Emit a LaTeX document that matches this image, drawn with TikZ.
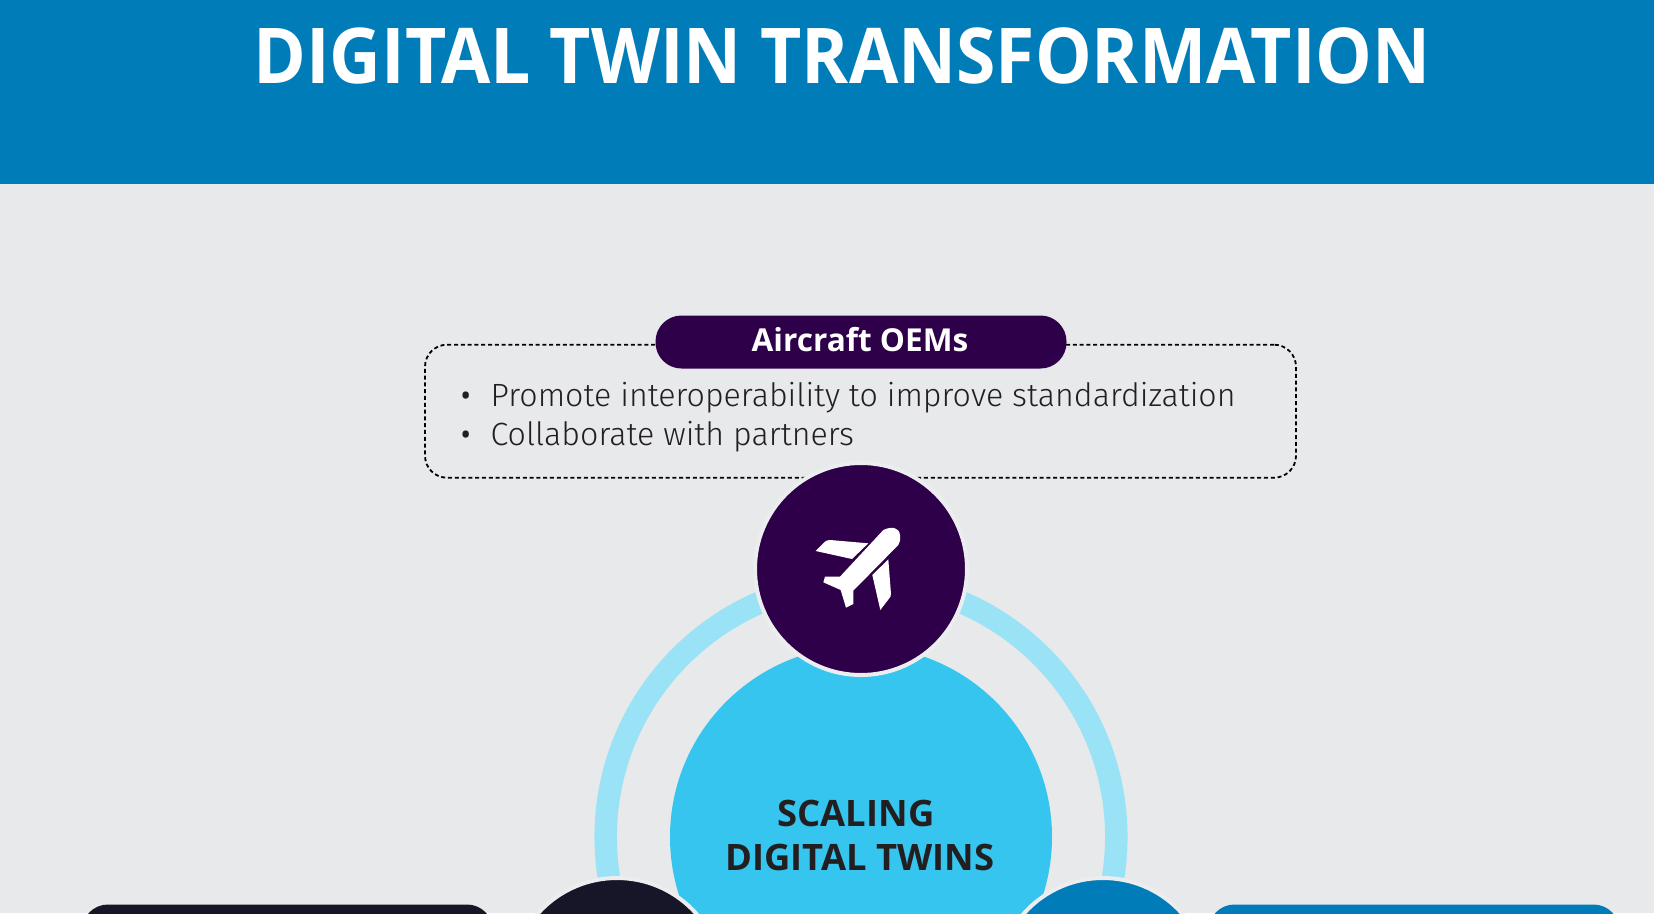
\documentclass[tikz,border=0pt]{standalone}
\usepackage{fontspec}
\setmainfont{Open Sans}
\newfontfamily\lightf{Fira Sans Light}
\definecolor{hdr}{HTML}{007DB8}
\definecolor{bgc}{HTML}{E8E9EB}
\definecolor{halo}{HTML}{ECEDEF}
\definecolor{plum}{HTML}{2E0049}
\definecolor{inkc}{HTML}{171628}
\definecolor{ringc}{HTML}{9AE3F7}
\definecolor{corec}{HTML}{36C5EE}
\definecolor{txt}{HTML}{231F20}
\tikzset{
  x=1pt,y=-1pt,
  disc/.style={circle,inner sep=0pt,minimum size=212pt,draw=halo,line width=4pt},
  pillbox/.style={rounded corners=26pt,inner sep=0pt},
  bodytxt/.style={anchor=base west,inner sep=0pt,text=txt,font=\lightf\fontsize{32.15}{32}\selectfont},
  bullettxt/.style={anchor=base,inner sep=0pt,text=txt,font=\fontsize{30}{30}\selectfont},
  headtxt/.style={anchor=base,inner sep=0pt,text=txt,font=\bfseries\fontsize{36.4}{36}\selectfont},
}
\begin{document}
\begin{tikzpicture}
\useasboundingbox (0,0) rectangle (1654,913);
\clip (0,0) rectangle (1654,913);
\fill[bgc] (0,0) rectangle (1654,913);
\fill[hdr] (0,0) rectangle (1654,184);
\node[anchor=base,inner sep=0pt,text=white,font=\bfseries\fontsize{77}{77}\selectfont] (title) at (842,83) {\scalebox{0.928}[1]{DIGITAL TWIN TRANSFORMATION}};
% dashed frame
\node[draw=black,dashed,dash pattern=on 4pt off 2.8pt,line width=1.8pt,rounded corners=22pt,minimum width=871pt,minimum height=133pt,inner sep=0pt] (frame) at (860.5,411.2) {};
\node[pillbox,fill=plum,minimum width=411pt,minimum height=53pt] (pill) at (861,342) {};
\node[anchor=base,inner sep=0pt,text=white,font=\bfseries\fontsize{31.6}{31}\selectfont] (pilltxt) at (860,351) {Aircraft OEMs};
\node[bullettxt] (b1) at (465.7,406) {•};
\node[bodytxt] (t1) at (490.5,406) {Promote interoperability to improve standardization};
\node[bullettxt] (b2) at (465.7,445) {•};
\node[bodytxt] (t2) at (490.5,445) {Collaborate with partners};
% ring and core
\node[circle,draw=ringc,line width=22.5pt,minimum size=510.6pt,inner sep=0pt] (ring) at (861,837) {};
\node[circle,fill=corec,minimum size=382pt,inner sep=0pt] (core) at (861,837) {};
\node[headtxt] (s1) at (856,826) {SCALING};
\node[headtxt] (s2) at (860,870) {DIGITAL TWINS};
% discs
\node[disc,fill=plum] (top) at (861,569) {};
\node[disc,fill=inkc] (left) at (617,984) {};
\node[disc,fill=hdr] (right) at (1103,984) {};
% plane
\begin{scope}[shift={(700,440)},x=0.3333pt,y=-0.3333pt]
\fill[white] (600,285) .. controls (598,262) and (575,258) .. (550,270) -- (420,410) -- (375,410) -- (370,427) -- (422,450) -- (438,503) -- (460,492) -- (460,452) -- (595,315) .. controls (600,308) and (602,298) .. (600,285) -- cycle;
\fill[white] (347,333) -- (372,308) .. controls (376,303) and (381,300) .. (390,300) -- (505,310) -- (456,357) -- cycle;
\fill[white] (565,358) -- (573,462) .. controls (573,468) and (571,472) .. (567,476) -- (541,510) -- (517,405) -- cycle;
\end{scope}
% bottom boxes
\node[pillbox,fill=inkc,minimum width=411pt,minimum height=60pt] (lbox) at (287.5,934.5) {};
\node[pillbox,fill=hdr,minimum width=411pt,minimum height=60pt] (rbox) at (1414,934.5) {};
\end{tikzpicture}
\end{document}
